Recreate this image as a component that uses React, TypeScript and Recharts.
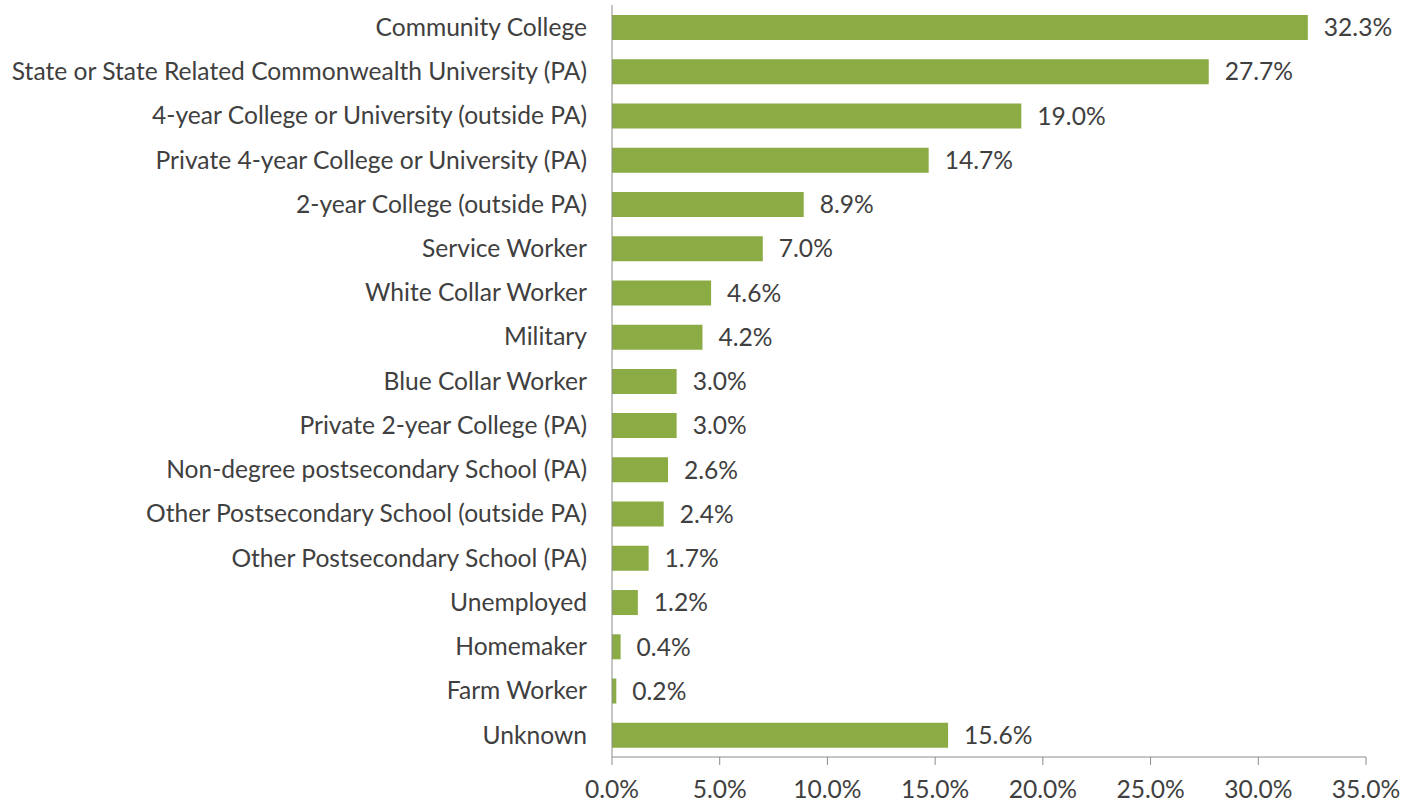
import { BarChart, Bar, XAxis, YAxis, LabelList } from "recharts";

const categories = [
  "Community College",
  "State or State Related Commonwealth University (PA)",
  "4-year College or University (outside PA)",
  "Private 4-year College or University (PA)",
  "2-year College (outside PA)",
  "Service Worker",
  "White Collar Worker",
  "Military",
  "Blue Collar Worker",
  "Private 2-year College (PA)",
  "Non-degree postsecondary School (PA)",
  "Other Postsecondary School (outside PA)",
  "Other Postsecondary School (PA)",
  "Unemployed",
  "Homemaker",
  "Farm Worker",
  "Unknown",
];

const shares = [32.3, 27.7, 19.0, 14.7, 8.9, 7.0, 4.6, 4.2, 3.0, 3.0, 2.6, 2.4, 1.7, 1.2, 0.4, 0.2, 15.6];

const xTicks = [0, 5, 10, 15, 20, 25, 30, 35];

const data = categories.map((name, i) => ({ name, value: shares[i] }));

const pct = (v: number) => `${Number(v).toFixed(1)}%`;

const font = "Lato, sans-serif";
const textColor = "#404040";
const axisColor = "#8c8c8c";
const fs = 24.6;

export default function App() {
  return (
    <div style={{ position: "absolute", left: 0, top: 0, fontFamily: font }}>
      <BarChart
        width={1403}
        height={804}
        data={data}
        layout="vertical"
        margin={{ top: 5, right: 37, left: 0, bottom: 0 }}
        barCategoryGap={0}
      >
        <XAxis
          type="number"
          domain={[0, 35]}
          ticks={xTicks}
          tickFormatter={pct}
          stroke={axisColor}
          tickSize={8}
          tickMargin={16}
          height={47}
          tick={{ fill: textColor, fontSize: fs, fontFamily: font }}
          interval={0}
        />
        <YAxis
          type="category"
          dataKey="name"
          width={612}
          stroke={axisColor}
          tickLine={false}
          tickSize={0}
          tickMargin={25}
          interval={0}
          tick={{ fill: textColor, fontSize: fs, fontFamily: font }}
        />
        <Bar dataKey="value" fill="#8bab45" barSize={25} isAnimationActive={false}>
          <LabelList
            dataKey="value"
            position="right"
            offset={16}
            formatter={pct}
            fill={textColor}
            fontSize={fs}
            fontFamily={font}
          />
        </Bar>
      </BarChart>
    </div>
  );
}
